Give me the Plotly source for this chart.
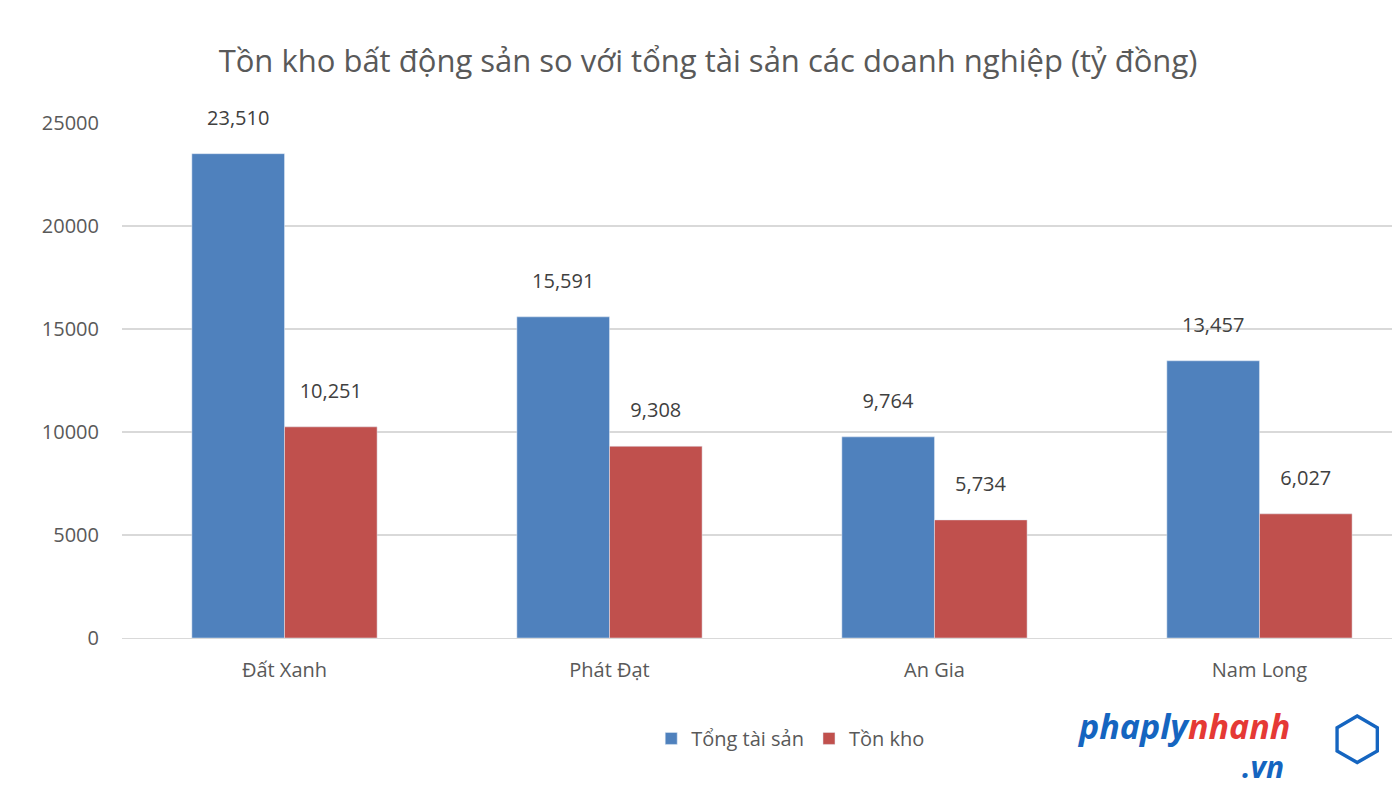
import plotly.graph_objects as go

companies = ['Đất Xanh', 'Phát Đạt', 'An Gia', 'Nam Long']
tong_tai_san = [23510, 15591, 9764, 13457]
ton_kho = [10251, 9308, 5734, 6027]
y_ticks = [0, 5000, 10000, 15000, 20000, 25000]

font = 'Open Sans, Noto Sans, sans-serif'
grey = '#595959'
spacer = '<br><span style="font-size:1px"> </span>'

fig = go.Figure()
fig.add_trace(go.Bar(x=companies, y=tong_tai_san, name='Tổng tài sản',
                     marker_color='#4F81BD',
                     text=[f'{v:,}' + spacer for v in tong_tai_san], textposition='outside',
                     textfont=dict(size=20, color='#404040'), cliponaxis=False))
fig.add_trace(go.Bar(x=companies, y=ton_kho, name='Tồn kho',
                     marker_color='#C0504D',
                     text=[f'{v:,}' + spacer for v in ton_kho], textposition='outside',
                     textfont=dict(size=20, color='#404040'), cliponaxis=False))

fig.update_layout(
    width=1400, height=788,
    paper_bgcolor='white', plot_bgcolor='white',
    font=dict(family=font, color=grey, size=20),
    title=dict(text='Tồn kho bất động sản so với tổng tài sản các doanh nghiệp (tỷ đồng)',
               x=0.5, xanchor='center', y=0.932, yanchor='middle',
               font=dict(size=31, color=grey)),
    barmode='group', bargap=0.43, bargroupgap=0,
    margin=dict(l=114, r=0, t=115, b=158, autoexpand=False),
    legend=dict(orientation='h', x=0.52, xanchor='center', y=-0.195, yanchor='middle',
                font=dict(size=20, color=grey)),
    xaxis=dict(range=[-0.5, 3.457], showline=True, linecolor='#d9d9d9',
               ticklabelstandoff=14,
               tickfont=dict(size=20, color=grey), ticks=''),
    yaxis=dict(range=[0, 25000], tickvals=y_ticks, ticktext=[str(v) for v in y_ticks],
               showgrid=True, gridcolor='#d9d9d9',
               gridwidth=2, zeroline=False, ticklabelstandoff=22,
               tickfont=dict(size=20, color=grey)),
)

fig.add_annotation(xref='paper', yref='paper', x=0.91, y=-0.17, xanchor='right',
                   yanchor='middle', showarrow=False,
                   text='<b><i><span style="color:#1565C0">phaply</span>'
                        '<span style="color:#E53935">nhanh</span></i></b>',
                   font=dict(size=34))
fig.add_annotation(xref='paper', yref='paper', x=0.905, y=-0.25, xanchor='right',
                   yanchor='middle', showarrow=False,
                   text='<b><i>.vn</i></b>', font=dict(size=30, color='#1565C0'))
fig.add_annotation(xref='paper', yref='paper', x=0.96, y=-0.19, xanchor='center',
                   yanchor='middle', showarrow=False,
                   text='⬡', font=dict(size=60, color='#1565C0'))

fig.write_html('out.html')
